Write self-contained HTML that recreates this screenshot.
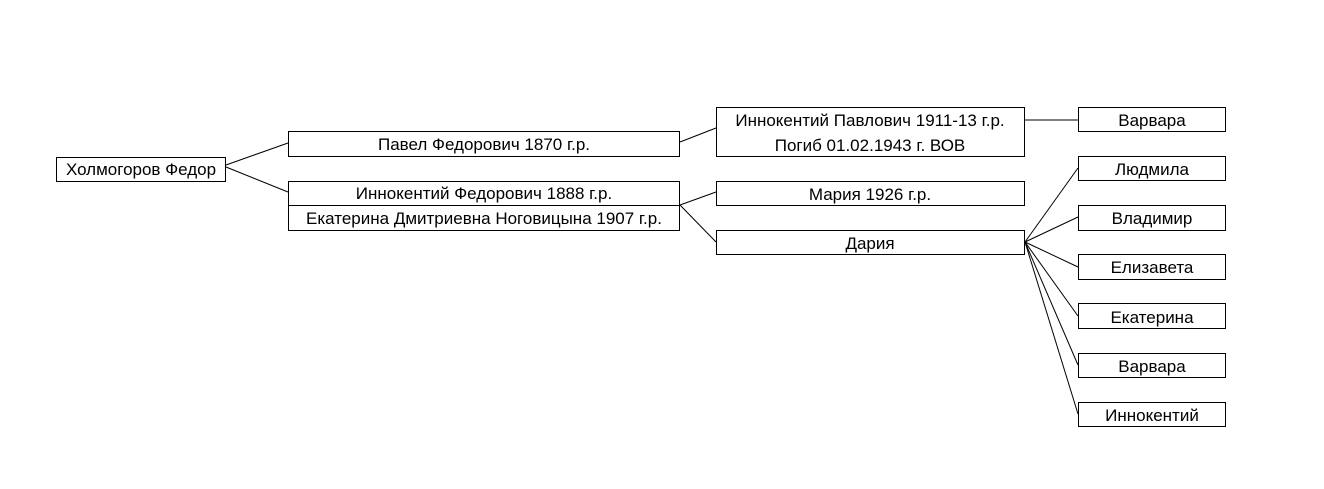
<!DOCTYPE html>
<html><head><meta charset="utf-8"><style>
html,body{margin:0;padding:0;background:#fff}
svg{display:block}
text{font-family:"Liberation Sans",sans-serif;font-size:17px;fill:#000}
</style></head><body>
<svg width="1324" height="489" xmlns="http://www.w3.org/2000/svg">
<g fill="#fff" stroke="#000" stroke-width="1">
<rect x="56.5" y="157.5" width="169" height="24"/>
<rect x="288.5" y="131.5" width="391" height="25"/>
<rect x="288.5" y="181.5" width="391" height="24"/>
<rect x="288.5" y="205.5" width="391" height="25"/>
<rect x="716.5" y="107.5" width="308" height="49"/>
<rect x="716.5" y="181.5" width="308" height="24"/>
<rect x="716.5" y="230.5" width="308" height="24"/>
<rect x="1078.5" y="107.5" width="147" height="24"/>
<rect x="1078.5" y="156.5" width="147" height="24"/>
<rect x="1078.5" y="205.5" width="147" height="25"/>
<rect x="1078.5" y="254.5" width="147" height="25"/>
<rect x="1078.5" y="303.5" width="147" height="25"/>
<rect x="1078.5" y="353.5" width="147" height="24"/>
<rect x="1078.5" y="402.5" width="147" height="24"/>
</g>
<g stroke="#000" stroke-width="1" fill="none">
<line x1="226" y1="165" x2="288" y2="143"/>
<line x1="226" y1="167" x2="288" y2="192"/>
<line x1="680" y1="142" x2="716" y2="128"/>
<line x1="680" y1="205" x2="716" y2="192"/>
<line x1="680" y1="205" x2="716" y2="242"/>
<line x1="1025" y1="120" x2="1078" y2="120"/>
<line x1="1025" y1="242" x2="1078" y2="168"/>
<line x1="1025" y1="242" x2="1078" y2="217"/>
<line x1="1025" y1="242" x2="1078" y2="267"/>
<line x1="1025" y1="242" x2="1078" y2="316"/>
<line x1="1025" y1="242" x2="1078" y2="365"/>
<line x1="1025" y1="242" x2="1078" y2="414"/>
</g>
<g text-anchor="middle">
<text x="141" y="175">Холмогоров Федор</text>
<text x="484" y="150">Павел Федорович 1870 г.р.</text>
<text x="484" y="199">Иннокентий Федорович 1888 г.р.</text>
<text x="484" y="224">Екатерина Дмитриевна Ноговицына 1907 г.р.</text>
<text x="870" y="126">Иннокентий Павлович 1911-13 г.р.</text>
<text x="870" y="151">Погиб 01.02.1943 г. ВОВ</text>
<text x="870" y="200">Мария 1926 г.р.</text>
<text x="870" y="249">Дария</text>
<text x="1152" y="126">Варвара</text>
<text x="1152" y="175">Людмила</text>
<text x="1152" y="224">Владимир</text>
<text x="1152" y="273">Елизавета</text>
<text x="1152" y="323">Екатерина</text>
<text x="1152" y="372">Варвара</text>
<text x="1152" y="421">Иннокентий</text>
</g>
</svg>
</body></html>
